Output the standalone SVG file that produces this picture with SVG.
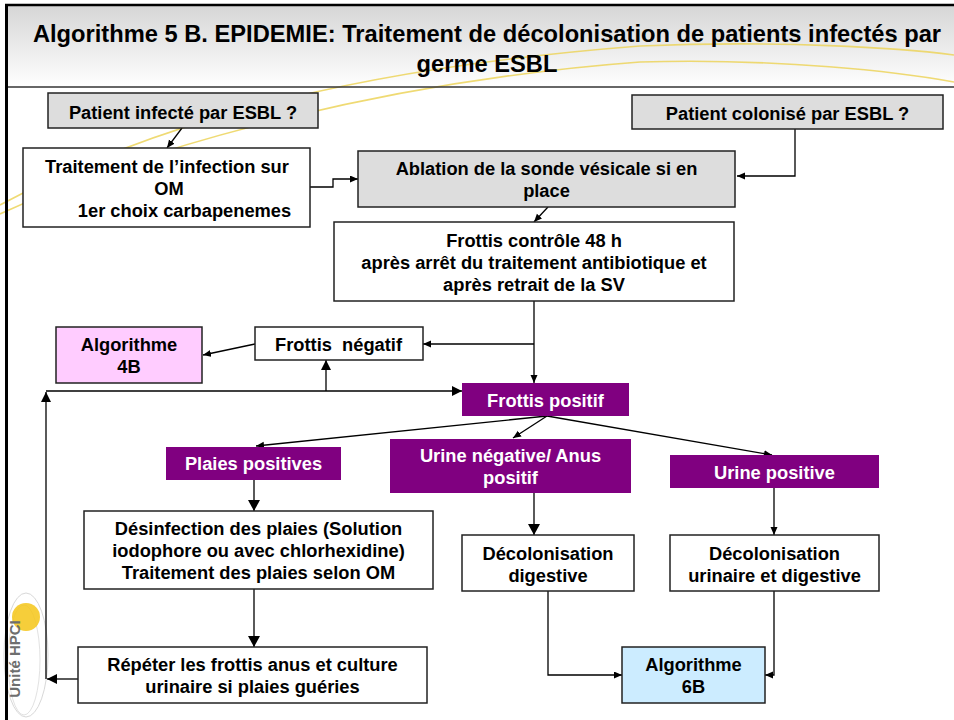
<svg xmlns="http://www.w3.org/2000/svg" width="954" height="720" viewBox="0 0 954 720">
<defs>
<linearGradient id="titleBg" x1="0" y1="0" x2="0" y2="1">
<stop offset="0" stop-color="#d6d6d6"/>
<stop offset="1" stop-color="#ffffff"/>
</linearGradient>
<marker id="as" markerWidth="9" markerHeight="8" refX="8" refY="3.5" orient="auto" markerUnits="userSpaceOnUse">
<path d="M0,0 L8,3.5 L0,7 z" fill="#000"/>
</marker>
<marker id="am" markerWidth="11" markerHeight="11" refX="10" refY="5" orient="auto" markerUnits="userSpaceOnUse">
<path d="M0,0 L10,5 L0,10 z" fill="#000"/>
</marker>
<marker id="al" markerWidth="12" markerHeight="13" refX="11" refY="6" orient="auto" markerUnits="userSpaceOnUse">
<path d="M0,0 L11,6 L0,12 z" fill="#000"/>
</marker>
<style>
.box{stroke:#222;stroke-width:1.5}
.gray{fill:#dddddd}
.white{fill:#ffffff}
.purple{fill:#800080;stroke:none}
.pink{fill:#ffccff}
.blue{fill:#ccecff}
text{font-family:"Liberation Sans",Arial,sans-serif;font-weight:bold;font-size:18.3px;text-anchor:middle;fill:#000}
.w{fill:#ffffff}
.title{font-size:23.7px}
.conn{fill:none;stroke:#000;stroke-width:1.3}
.swoosh{fill:none;stroke:#ecd35a;stroke-width:1.6;opacity:0.85}
</style>
</defs>

<!-- background / template -->
<rect x="0" y="0" width="954" height="720" fill="#ffffff"/>
<rect x="6" y="5" width="948" height="82" fill="url(#titleBg)"/>
<path class="swoosh" d="M0,205 C140,130 330,70 640,46 C780,40 900,48 954,55"/>
<path class="swoosh" d="M0,214 C160,140 400,80 640,62 C780,58 900,72 954,82"/>
<g id="logo">
<ellipse cx="26" cy="655" rx="22" ry="62" fill="none" stroke="#d8d8d8" stroke-width="1"/>
<ellipse cx="24" cy="660" rx="16" ry="55" fill="none" stroke="#e2e2e2" stroke-width="1"/>
<circle cx="26" cy="617" r="14" fill="#f5c518" opacity="0.85"/>
<text transform="translate(20,659) rotate(-90)" style="font-size:15px;fill:#6e6e6e">Unité HPCI</text>
</g>
<line x1="6" y1="87" x2="954" y2="87" stroke="#333" stroke-width="1.5"/>
<line x1="5" y1="5" x2="954" y2="5" stroke="#000" stroke-width="2.5"/>
<line x1="6.5" y1="4" x2="6.5" y2="720" stroke="#000" stroke-width="3"/>

<g id="title">
<text class="title" x="487" y="42">Algorithme 5 B. EPIDEMIE: Traitement de décolonisation de patients infectés par</text>
<text class="title" x="487" y="72">germe ESBL</text>
</g>

<g id="connectors">
<path class="conn" d="M182,128 L167,148" marker-end="url(#as)"/>
<path class="conn" d="M310,187 H333 V179 H358" marker-end="url(#as)"/>
<path class="conn" d="M795,129 V176 H737" marker-end="url(#as)"/>
<path class="conn" d="M548,207 L534,222" marker-end="url(#as)"/>
<path class="conn" d="M534,301 V383" marker-end="url(#as)"/>
<path class="conn" d="M534,344 H423" marker-end="url(#as)"/>
<path class="conn" d="M255,344 L203,355" marker-end="url(#as)"/>
<path class="conn" d="M547,416 L256,446" marker-end="url(#as)"/>
<path class="conn" d="M547,416 L513,438" marker-end="url(#as)"/>
<path class="conn" d="M547,416 L772,455" marker-end="url(#as)"/>
<path class="conn" d="M254,480 V511" marker-end="url(#al)"/>
<path class="conn" d="M534,493 V535" marker-end="url(#al)"/>
<path class="conn" d="M774,488 V535" marker-end="url(#as)"/>
<path class="conn" d="M254,589 V647" marker-end="url(#al)"/>
<path class="conn" d="M548,591 V675 H622" marker-end="url(#as)"/>
<path class="conn" d="M774,591 V675 H765" marker-end="url(#as)"/>
<path class="conn" d="M78,679 H47" marker-end="url(#am)"/>
<path class="conn" d="M46,679 V392" marker-end="url(#am)"/>
<path class="conn" d="M46,391 H462" marker-end="url(#am)"/>
<path class="conn" d="M326,391 V360" marker-end="url(#am)"/>
</g>

<g id="patient-infecte">
<rect class="box gray" x="48" y="93" width="270" height="35"/>
<text x="183" y="119">Patient infecté par ESBL ?</text>
</g>
<g id="patient-colonise">
<rect class="box gray" x="632" y="95" width="311" height="34"/>
<text x="787.5" y="120">Patient colonisé par ESBL ?</text>
</g>
<g id="traitement">
<rect class="box white" x="23" y="148" width="287" height="79"/>
<text x="167" y="173">Traitement de l’infection sur</text>
<text x="169" y="195">OM</text>
<text x="184.5" y="217">1er choix carbapenemes</text>
</g>
<g id="ablation">
<rect class="box gray" x="358" y="151" width="377" height="56"/>
<text x="546.5" y="175">Ablation de la sonde vésicale si en</text>
<text x="546.5" y="197">place</text>
</g>
<g id="frottis-controle">
<rect class="box white" x="334" y="222" width="400" height="79"/>
<text x="534" y="247">Frottis contrôle 48 h</text>
<text x="534" y="269">après arrêt du traitement antibiotique et</text>
<text x="534" y="291">après retrait de la SV</text>
</g>
<g id="frottis-negatif">
<rect class="box white" x="255" y="327" width="168" height="33"/>
<text x="338.5" y="350.5" xml:space="preserve">Frottis  négatif</text>
</g>
<g id="algo-4b">
<rect class="box pink" x="56" y="327" width="146" height="56"/>
<text x="129" y="350.5">Algorithme</text>
<text x="129" y="372.5">4B</text>
</g>
<g id="frottis-positif">
<rect class="purple" x="462" y="383" width="167" height="33"/>
<text class="w" x="545.5" y="406.5">Frottis positif</text>
</g>
<g id="plaies-positives">
<rect class="purple" x="166" y="447" width="175" height="33"/>
<text class="w" x="253.5" y="470">Plaies positives</text>
</g>
<g id="urine-negative">
<rect class="purple" x="390" y="439" width="241" height="54"/>
<text class="w" x="510.5" y="462">Urine négative/ Anus</text>
<text class="w" x="510.5" y="484">positif</text>
</g>
<g id="urine-positive">
<rect class="purple" x="670" y="455" width="209" height="33"/>
<text class="w" x="774.5" y="479">Urine positive</text>
</g>
<g id="desinfection">
<rect class="box white" x="84" y="511" width="349" height="78"/>
<text x="258.5" y="535">Désinfection des plaies (Solution</text>
<text x="258.5" y="557">iodophore ou avec chlorhexidine)</text>
<text x="258.5" y="579">Traitement des plaies selon OM</text>
</g>
<g id="decol-digestive">
<rect class="box white" x="462" y="535" width="172" height="56"/>
<text x="548" y="559.5">Décolonisation</text>
<text x="548" y="581.5">digestive</text>
</g>
<g id="decol-urinaire">
<rect class="box white" x="670" y="535" width="209" height="56"/>
<text x="774.5" y="559.5">Décolonisation</text>
<text x="774.5" y="581.5">urinaire et digestive</text>
</g>
<g id="repeter">
<rect class="box white" x="78" y="647" width="349" height="56"/>
<text x="252.5" y="671">Répéter les frottis anus et culture</text>
<text x="252.5" y="693">urinaire si plaies guéries</text>
</g>
<g id="algo-6b">
<rect class="box blue" x="622" y="647" width="143" height="56"/>
<text x="693.5" y="671">Algorithme</text>
<text x="693.5" y="693">6B</text>
</g>
</svg>
